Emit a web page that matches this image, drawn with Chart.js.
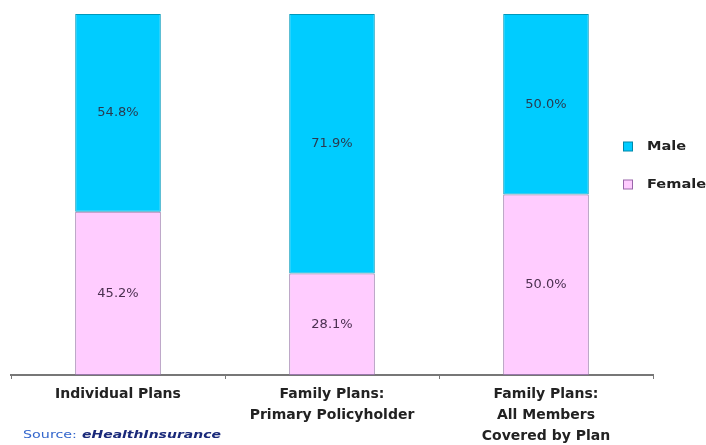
<!DOCTYPE html>
<html><head><meta charset="utf-8">
<script src="https://cdn.jsdelivr.net/npm/chart.js@4.4.0/dist/chart.umd.min.js"></script>
<style>html,body{margin:0;padding:0;background:#fff}#wrap{width:706px;height:445px}</style>
</head><body><div id="wrap"><canvas id="c" width="706" height="445"></canvas></div>
<script>
const categories = [["Individual Plans"], ["Family Plans:", "Primary Policyholder"], ["Family Plans:", "All Members", "Covered by Plan"]];
const femaleValues = [45.2, 28.1, 50.0];
const maleValues = [54.8, 71.9, 50.0];
const seriesNames = ["Female", "Male"];

function stretchText(ctx, text, x, y, sx) {
  ctx.save();
  ctx.translate(x, y);
  ctx.scale(sx, 1);
  ctx.fillText(text, 0, 0);
  ctx.restore();
}

const labelPlugin = {
  id: 'labels',
  afterDatasetsDraw(chart) {
    const ctx = chart.ctx;
    ctx.save();
    ctx.font = '13px "DejaVu Sans"';
    ctx.textAlign = 'center';
    ctx.textBaseline = 'middle';
    chart.data.datasets.forEach((ds, di) => {
      const meta = chart.getDatasetMeta(di);
      meta.data.forEach((bar, i) => {
        ctx.fillStyle = di === 0 ? '#4a3050' : '#2a3a50';
        ctx.fillText(ds.data[i].toFixed(1) + '%', bar.x, (bar.y + bar.base) / 2);
      });
    });
    // legend
    const items = [{name: chart.data.datasets[1].label, fill: '#00CCFF', stroke: '#0088AA', y: 147},
                   {name: chart.data.datasets[0].label, fill: '#FFCCFF', stroke: '#9966AA', y: 185}];
    ctx.textAlign = 'left';
    ctx.font = 'bold 13px "DejaVu Sans"';
    items.forEach(it => {
      ctx.fillStyle = it.fill;
      ctx.fillRect(623.5, it.y - 5, 9, 9);
      ctx.strokeStyle = it.stroke;
      ctx.lineWidth = 1;
      ctx.strokeRect(623.5, it.y - 5, 9, 9);
      ctx.fillStyle = '#222';
      stretchText(ctx, it.name, 647, it.y, 1.12);
    });
    // source
    ctx.font = '11px "DejaVu Sans"';
    ctx.fillStyle = '#3366CC';
    stretchText(ctx, 'Source:', 23, 435, 1.3);
    ctx.font = 'italic bold 11px "DejaVu Sans"';
    ctx.fillStyle = '#1a2a7a';
    stretchText(ctx, 'eHealthInsurance', 82, 435, 1.27);
    ctx.restore();
  }
};

new Chart(document.getElementById('c'), {
  type: 'bar',
  data: {
    labels: categories,
    datasets: [
      {label: seriesNames[0], data: femaleValues, backgroundColor: '#FFCCFF', borderColor: '#9977AA', borderWidth: 1, borderSkipped: false},
      {label: seriesNames[1], data: maleValues, backgroundColor: '#00CCFF', borderColor: '#0099BB', borderWidth: 1, borderSkipped: false}
    ]
  },
  options: {
    responsive: false,
    animation: false,
    layout: {padding: {left: 11, right: 53, top: 14, bottom: 0}},
    datasets: {bar: {barPercentage: 0.8, categoryPercentage: 0.5}},
    plugins: {legend: {display: false}, tooltip: {enabled: false}},
    scales: {
      x: {
        stacked: true,
        afterFit: (s) => { s.height = 70; },
        border: {display: true, color: '#777', width: 2},
        grid: {drawOnChartArea: false, drawTicks: true, tickLength: 4, color: '#777', offset: true},
        ticks: {color: '#222', font: {family: '"DejaVu Sans"', weight: 'bold', size: 14, lineHeight: 1.5}, padding: 5, maxRotation: 0, autoSkip: false}
      },
      y: {stacked: true, display: false, min: 0, max: 100}
    }
  },
  plugins: [labelPlugin]
});
</script></body></html>
